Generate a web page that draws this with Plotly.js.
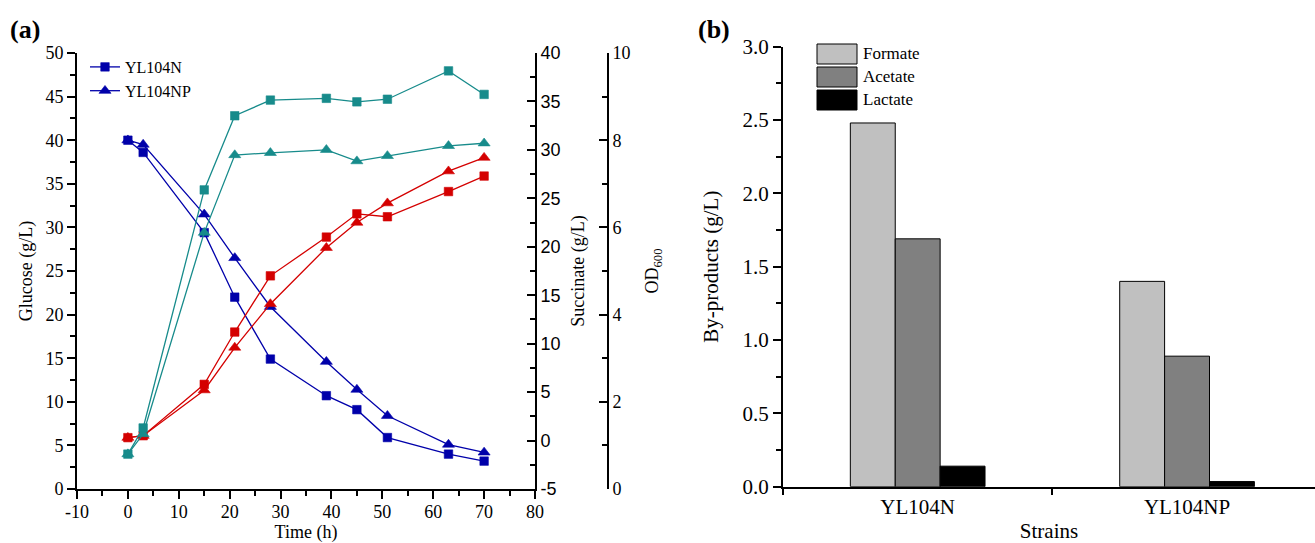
<!DOCTYPE html>
<html><head><meta charset="utf-8">
<script src="https://cdn.plot.ly/plotly-3.0.1.min.js"></script>
<style>html,body{margin:0;padding:0;background:#fff}#chart{width:1315px;height:543px}</style>
</head><body><div id="chart"></div>
<script>
// ---- data ----
const time = [0, 3, 15, 21, 28, 39, 45, 51, 63, 70];
const glucoseN  = [40, 38.6, 29.4, 22.0, 14.9, 10.7, 9.1, 5.9, 4.0, 3.2];
const glucoseNP = [40, 39.5, 31.5, 26.5, 20.9, 14.6, 11.4, 8.4, 5.1, 4.2];
const succinateN  = [0.3, 0.5, 5.8, 11.2, 17.0, 21.0, 23.4, 23.1, 25.7, 27.3];
const succinateNP = [0.3, 0.5, 5.2, 9.6, 14.1, 19.9, 22.5, 24.5, 27.8, 29.2];
const odN  = [0.8, 1.40, 6.86, 8.56, 8.92, 8.96, 8.88, 8.94, 9.59, 9.05];
const odNP = [0.8, 1.26, 5.88, 7.66, 7.71, 7.78, 7.52, 7.64, 7.87, 7.93];
const timeTicks = [-10, 0, 10, 20, 30, 40, 50, 60, 70, 80];
const succinateTicks = [-5, 0, 5, 10, 15, 20, 25, 30, 35, 40];
const strainNames = ['YL104N', 'YL104NP'];
const byproductNames = ['Formate', 'Acetate', 'Lactate'];
const formate = [2.48, 1.40];
const acetate = [1.69, 0.89];
const lactate = [0.14, 0.035];

// ---- styling ----
const W = 1315, H = 543;
const px = v => v / W, py = v => 1 - v / H;
const serif = 'Liberation Serif, Times New Roman, serif';
const sans = 'Liberation Sans, Arial, sans-serif';
const BLUE = '#0000aa', RED = '#d40000', TEAL = '#178b8b';
const barColors = ['#c0c0c0', '#808080', '#000000'];

function lineTrace(y, color, symbol, yaxis, name, showlegend) {
  return {
    type: 'scatter', mode: 'lines+markers', x: time, y: y, name: name,
    xaxis: 'x', yaxis: yaxis, showlegend: showlegend,
    line: {color: color, width: 1.3},
    marker: {symbol: symbol, size: symbol === 'square' ? 8.5 : 10.5, color: color,
             line: {color: color, width: 0.6}},
    cliponaxis: false
  };
}

const traces = [
  lineTrace(glucoseN, BLUE, 'square', 'y', strainNames[0], true),
  lineTrace(glucoseNP, BLUE, 'triangle-up', 'y', strainNames[1], true),
  lineTrace(succinateN, RED, 'square', 'y2', strainNames[0], false),
  lineTrace(succinateNP, RED, 'triangle-up', 'y2', strainNames[1], false),
  lineTrace(odN, TEAL, 'square', 'y3', strainNames[0], false),
  lineTrace(odNP, TEAL, 'triangle-up', 'y3', strainNames[1], false)
];
[formate, acetate, lactate].forEach((vals, i) => {
  traces.push({
    type: 'bar', x: strainNames, y: vals, name: byproductNames[i],
    xaxis: 'x2', yaxis: 'y4', showlegend: false,
    marker: {color: barColors[i], line: {color: '#000', width: 1}}
  });
});

const base = {
  showline: true, linecolor: '#000', linewidth: 2, showgrid: false, zeroline: false,
  ticks: 'outside', tickcolor: '#000', tickwidth: 2, ticklen: 8,
  tickfont: {family: serif, size: 18, color: '#000'}
};
const minor = (d, dir) => ({dtick: d, ticklen: 5, tickwidth: 2, ticks: dir, tickcolor: '#000', showgrid: false});
const titleFont = {family: serif, size: 18, color: '#000'};

// legend for panel (b): key boxes + labels
const shapes = [], annotations = [];
const keyRows = [54, 77, 100];
byproductNames.forEach((n, i) => {
  shapes.push({type: 'rect', xref: 'paper', yref: 'paper',
    x0: px(817), x1: px(857), y0: py(keyRows[i] + 10), y1: py(keyRows[i] - 10),
    fillcolor: barColors[i], line: {color: '#000', width: 1}});
  annotations.push({xref: 'paper', yref: 'paper', x: px(861), y: py(keyRows[i]),
    xanchor: 'left', yanchor: 'middle', showarrow: false, text: n,
    font: {family: serif, size: 17, color: '#000'}});
});
annotations.push({xref: 'paper', yref: 'paper', x: px(8), y: py(30), xanchor: 'left', yanchor: 'middle',
  showarrow: false, text: '<b>(a)</b>', font: {family: serif, size: 26, color: '#000'}});
annotations.push({xref: 'paper', yref: 'paper', x: px(696), y: py(30), xanchor: 'left', yanchor: 'middle',
  showarrow: false, text: '<b>(b)</b>', font: {family: serif, size: 26, color: '#000'}});

const layout = {
  width: W, height: H, margin: {l: 0, r: 0, t: 0, b: 0},
  paper_bgcolor: '#fff', plot_bgcolor: 'rgba(0,0,0,0)',
  showlegend: true,
  legend: {x: px(85), y: py(50), xanchor: 'left', yanchor: 'top',
    font: {family: serif, size: 16, color: '#000'}, bgcolor: 'rgba(0,0,0,0)',
    tracegroupgap: 0, itemwidth: 30},
  xaxis: Object.assign({}, base, {domain: [px(77), px(535)], anchor: 'y', range: [-10, 80],
    tickmode: 'array', tickvals: timeTicks, ticktext: timeTicks.map(String),
    minor: Object.assign(minor(5, 'outside'), {tickmode: 'linear', tick0: 0}),
    ticklabelstandoff: -3,
    title: {text: 'Time (h)', font: titleFont, standoff: 14}}),
  yaxis: Object.assign({}, base, {domain: [py(489), py(53)], anchor: 'x', range: [0, 50],
    dtick: 5, minor: minor(2.5, 'outside'),
    title: {text: 'Glucose (g/L)', font: titleFont, standoff: 8}}),
  yaxis2: Object.assign({}, base, {overlaying: 'y', side: 'right', anchor: 'x', range: [-5, 40],
    tickmode: 'array', tickvals: succinateTicks, ticktext: succinateTicks.map(String),
    ticks: 'inside', minor: Object.assign(minor(2.5, 'inside'), {tickmode: 'linear', tick0: 0}),
    tickfont: {family: sans, size: 18, color: '#000'},
    title: {text: 'Succinate (g/L)', font: titleFont, standoff: 12}}),
  yaxis3: Object.assign({}, base, {overlaying: 'y', side: 'right', anchor: 'free', position: px(608),
    range: [0, 10], dtick: 2, ticks: 'inside', minor: minor(1, 'inside'),
    title: {text: 'OD<sub>600</sub>', font: titleFont, standoff: 15}}),
  xaxis2: Object.assign({}, base, {domain: [px(783), 1], anchor: 'y4', type: 'category',
    range: [-0.5, 1.475], tickson: 'boundaries', ticklen: 6,
    tickfont: {family: serif, size: 21, color: '#000'},
    title: {text: 'Strains', font: {family: serif, size: 21, color: '#000'}, standoff: 9}}),
  yaxis4: Object.assign({}, base, {domain: [py(486.7), py(46.7)], anchor: 'x2', range: [0, 3],
    dtick: 0.5, tickformat: '.1f', minor: minor(0.25, 'outside'),
    tickfont: {family: serif, size: 21, color: '#000'},
    title: {text: 'By-products (g/L)', font: {family: serif, size: 21, color: '#000'}, standoff: 18}}),
  barmode: 'group', bargap: 0.5, bargroupgap: 0,
  shapes: shapes, annotations: annotations
};

Plotly.newPlot('chart', traces, layout, {staticPlot: true, displayModeBar: false});
</script>
</body></html>
